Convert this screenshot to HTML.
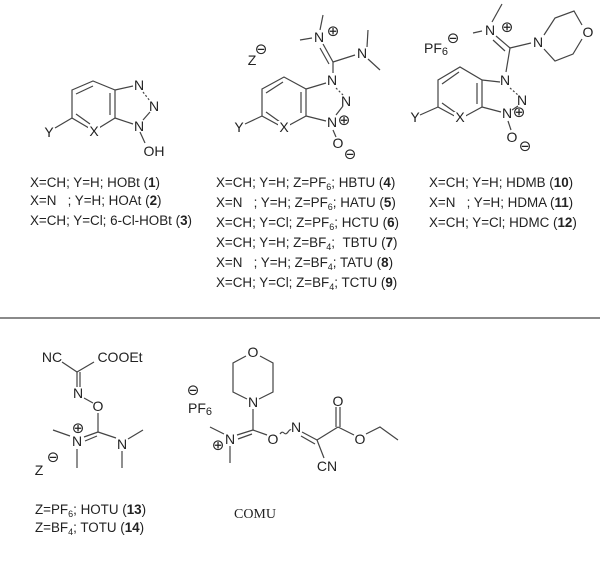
<!DOCTYPE html>
<html><head><meta charset="utf-8"><style>
body{margin:0;background:#fff;}
svg{display:block;font-family:"Liberation Sans",sans-serif;}
.a{font-size:14px;fill:#222;text-anchor:middle;dominant-baseline:central;}
.c{font-size:15px;fill:#222;text-anchor:middle;dominant-baseline:central;font-family:"DejaVu Sans",sans-serif;}
.l{font-size:13.4px;fill:#222;}
line,polyline,polygon,path{stroke:#444;stroke-width:1.2;fill:none;}
</style></head><body>
<svg width="600" height="570" viewBox="0 0 600 570">
<!-- HOBt -->
<polygon points="72,90 93,81 115,90 115,118 94,131 72,118"/>
<line x1="76" y1="94" x2="93" y2="86"/><line x1="110" y1="93" x2="110" y2="115"/><line x1="76" y1="114" x2="90" y2="124"/>
<line x1="115" y1="90" x2="133" y2="86"/><line x1="143" y1="92" x2="150" y2="101" stroke-dasharray="2,2"/>
<line x1="150" y1="112" x2="143" y2="120"/><line x1="115" y1="118" x2="133" y2="124"/>
<line x1="140" y1="132" x2="145" y2="143"/><line x1="55" y1="128" x2="72" y2="118"/>
<text class="a" x="139" y="85">N</text><text class="a" x="154" y="106">N</text><text class="a" x="139" y="126">N</text>
<text class="a" x="154" y="151">OH</text><text class="a" x="49" y="132">Y</text><rect x="88" y="125" width="12" height="12" fill="#fff" stroke="none"/><text class="a" x="94" y="131">X</text>
<!-- HBTU -->
<g>
<polygon points="262,89 284,77 306,89 306,116 284,128 262,116"/>
<line x1="266" y1="93" x2="283" y2="82"/><line x1="301" y1="92" x2="301" y2="113"/><line x1="266" y1="112" x2="280" y2="122"/>
<line x1="306" y1="89" x2="326" y2="83"/><line x1="336" y1="88" x2="343" y2="95" stroke-dasharray="2,2"/>
<line x1="343" y1="106" x2="336" y2="115"/><line x1="306" y1="116" x2="326" y2="121"/>
<line x1="245" y1="124" x2="262" y2="116"/>
<rect x="278" y="121" width="12" height="12" fill="#fff" stroke="none"/>
<text class="a" x="284" y="127">X</text><text class="a" x="239" y="127">Y</text>
<text class="a" x="332" y="80">N</text><text class="a" x="346" y="101">N</text><text class="a" x="332" y="122">N</text><text class="c" x="344" y="120">⊕</text>
<line x1="333" y1="130" x2="336" y2="137"/><text class="a" x="338" y="143">O</text><text class="c" x="350" y="154">⊖</text>
<line x1="333" y1="73" x2="333" y2="62"/><line x1="333" y1="62" x2="323" y2="44"/><line x1="329" y1="64" x2="320" y2="48"/>
<line x1="333" y1="62" x2="355" y2="55"/>
<line x1="320" y1="30" x2="323" y2="15"/><line x1="312" y1="38" x2="300" y2="40"/>
<line x1="367" y1="47" x2="368" y2="30"/><line x1="368" y1="59" x2="380" y2="70"/>
<text class="a" x="319" y="37">N</text><text class="c" x="333" y="31">⊕</text><text class="a" x="362" y="53">N</text>
<text class="a" x="252" y="60">Z</text><text class="c" x="261" y="49">⊖</text>
</g>
<!-- HDMB -->
<g>
<polygon points="438,80 460,67 482,80 482,107 460,119 438,107"/>
<line x1="442" y1="84" x2="459" y2="72"/><line x1="477" y1="83" x2="477" y2="104"/><line x1="442" y1="103" x2="456" y2="113"/>
<line x1="482" y1="80" x2="500" y2="82"/><line x1="510" y1="88" x2="518" y2="95" stroke-dasharray="2,2"/>
<line x1="518" y1="106" x2="512" y2="110"/><line x1="482" y1="107" x2="501" y2="112"/>
<line x1="420" y1="115" x2="438" y2="107"/>
<rect x="454" y="112" width="12" height="12" fill="#fff" stroke="none"/>
<text class="a" x="460" y="117">X</text><text class="a" x="415" y="117">Y</text>
<text class="a" x="505" y="80">N</text><text class="a" x="522" y="100">N</text><text class="a" x="507" y="113">N</text><text class="c" x="519" y="112">⊕</text>
<line x1="508" y1="121" x2="511" y2="130"/><text class="a" x="512" y="137">O</text><text class="c" x="525" y="146">⊖</text>
<line x1="506" y1="72" x2="510" y2="48"/><line x1="510" y1="48" x2="496" y2="36"/><line x1="505" y1="51" x2="493" y2="40"/>
<line x1="510" y1="48" x2="531" y2="43"/>
<line x1="492" y1="22" x2="502" y2="4"/><line x1="482" y1="31" x2="473" y2="33"/>
<text class="a" x="490" y="30">N</text><text class="c" x="507" y="27">⊕</text>
<text class="a" x="538" y="42">N</text>
<polyline points="544,35 555,18 574,11 582,25"/><polyline points="544,49 555,61 573,54 582,39"/>
<text class="a" x="588" y="32">O</text>
<text class="a" x="436" y="48" font-size="16">PF<tspan font-size="11" dy="4">6</tspan></text><text class="c" x="453" y="38">⊖</text>
</g>
<!-- labels -->
<g class="l">
<text x="30" y="187">X=CH; Y=H; HOBt (<tspan font-weight="bold">1</tspan>)</text>
<text x="30" y="205">X=N &#160; ; Y=H; HOAt (<tspan font-weight="bold">2</tspan>)</text>
<text x="30" y="225">X=CH; Y=Cl; 6-Cl-HOBt (<tspan font-weight="bold">3</tspan>)</text>
<text x="216" y="187">X=CH; Y=H; Z=PF<tspan font-size="9" dy="3">6</tspan><tspan dy="-3">; HBTU (</tspan><tspan font-weight="bold">4</tspan>)</text>
<text x="216" y="207">X=N &#160; ; Y=H; Z=PF<tspan font-size="9" dy="3">6</tspan><tspan dy="-3">; HATU (</tspan><tspan font-weight="bold">5</tspan>)</text>
<text x="216" y="227">X=CH; Y=Cl; Z=PF<tspan font-size="9" dy="3">6</tspan><tspan dy="-3">; HCTU (</tspan><tspan font-weight="bold">6</tspan>)</text>
<text x="216" y="247">X=CH; Y=H; Z=BF<tspan font-size="9" dy="3">4</tspan><tspan dy="-3">; &#160;TBTU (</tspan><tspan font-weight="bold">7</tspan>)</text>
<text x="216" y="267">X=N &#160; ; Y=H; Z=BF<tspan font-size="9" dy="3">4</tspan><tspan dy="-3">; TATU (</tspan><tspan font-weight="bold">8</tspan>)</text>
<text x="216" y="287">X=CH; Y=Cl; Z=BF<tspan font-size="9" dy="3">4</tspan><tspan dy="-3">; TCTU (</tspan><tspan font-weight="bold">9</tspan>)</text>
<text x="429" y="187">X=CH; Y=H; HDMB (<tspan font-weight="bold">10</tspan>)</text>
<text x="429" y="207">X=N &#160; ; Y=H; HDMA (<tspan font-weight="bold">11</tspan>)</text>
<text x="429" y="227">X=CH; Y=Cl; HDMC (<tspan font-weight="bold">12</tspan>)</text>
<text x="35" y="514">Z=PF<tspan font-size="9" dy="3">6</tspan><tspan dy="-3">; HOTU (</tspan><tspan font-weight="bold">13</tspan>)</text>
<text x="35" y="532">Z=BF<tspan font-size="9" dy="3">4</tspan><tspan dy="-3">; TOTU (</tspan><tspan font-weight="bold">14</tspan>)</text>
</g>
<line x1="0" y1="318" x2="600" y2="318" stroke="#777" stroke-width="2"/>
<!-- HOTU -->
<text class="a" x="52" y="357">NC</text><text class="a" x="120" y="357">COOEt</text>
<line x1="62" y1="362" x2="77" y2="372"/><line x1="77" y1="372" x2="94" y2="362"/>
<line x1="77" y1="372" x2="77" y2="387"/><line x1="80" y1="372" x2="80" y2="387"/>
<text class="a" x="78" y="393">N</text><line x1="84" y1="398" x2="93" y2="403"/>
<text class="a" x="98" y="406">O</text><line x1="98" y1="413" x2="98" y2="432"/>
<line x1="98" y1="432" x2="84" y2="437"/><line x1="97" y1="436" x2="85" y2="441"/>
<line x1="98" y1="432" x2="116" y2="438"/>
<text class="a" x="77" y="441">N</text><text class="c" x="78" y="428">⊕</text><text class="a" x="122" y="444">N</text>
<line x1="70" y1="436" x2="53" y2="430"/><line x1="77" y1="449" x2="77" y2="468"/>
<line x1="128" y1="439" x2="143" y2="430"/><line x1="122" y1="451" x2="122" y2="468"/>
<text class="a" x="39" y="470" font-size="15">Z</text><text class="c" x="53" y="457">⊖</text>
<!-- COMU -->
<text class="a" x="253" y="352">O</text>
<polyline points="246,356 233,363 233,392 247,399"/><polyline points="260,356 273,363 273,392 259,399"/>
<text class="a" x="253" y="402">N</text>
<line x1="253" y1="409" x2="253" y2="430"/>
<line x1="253" y1="430" x2="237" y2="435"/><line x1="252" y1="434" x2="238" y2="439"/>
<line x1="253" y1="430" x2="267" y2="435"/>
<text class="a" x="230" y="439">N</text><text class="c" x="218" y="445">⊕</text>
<line x1="224" y1="434" x2="210" y2="427"/><line x1="230" y1="446" x2="230" y2="463"/>
<text class="a" x="273" y="439">O</text>
<path d="M280,434 q2,-3 4,-1 q2,2 4,-1 q2,-3 3,-2" />
<text class="a" x="296" y="427">N</text>
<line x1="302" y1="432" x2="317" y2="440"/><line x1="301" y1="436" x2="315" y2="444"/>
<line x1="317" y1="440" x2="338" y2="427"/><line x1="317" y1="440" x2="324" y2="458"/>
<text class="a" x="327" y="466">CN</text>
<line x1="336" y1="427" x2="336" y2="407"/><line x1="340" y1="427" x2="340" y2="407"/>
<text class="a" x="338" y="401">O</text>
<line x1="338" y1="427" x2="354" y2="435"/>
<text class="a" x="360" y="439">O</text>
<polyline points="366,434 380,427 398,440"/>
<text class="a" x="200" y="408" font-size="17">PF<tspan font-size="11" dy="4">6</tspan></text><text class="c" x="193" y="390">⊖</text>
<text x="255" y="518" text-anchor="middle" font-family="Liberation Serif, serif" font-size="14" fill="#222">COMU</text>
</svg>
</body></html>
